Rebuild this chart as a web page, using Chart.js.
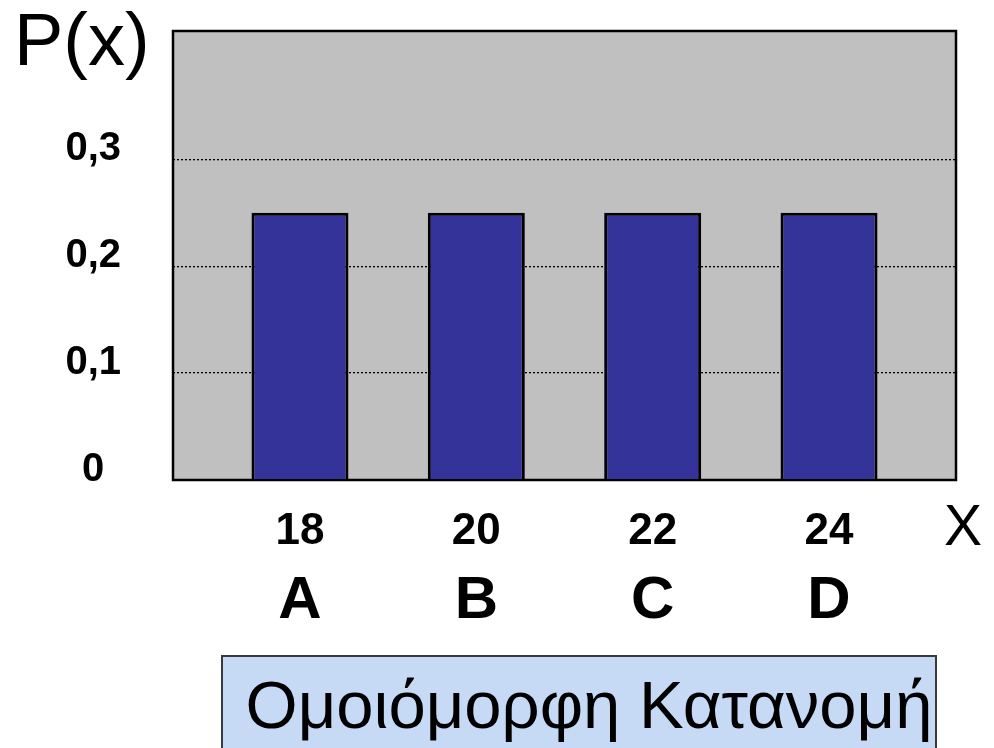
<!DOCTYPE html>
<html>
<head>
<meta charset="utf-8">
<script src="https://cdn.jsdelivr.net/npm/chart.js@4/dist/chart.umd.min.js"></script>
<style>
  html, body { margin: 0; padding: 0; background: #ffffff; }
  #wrap { position: relative; width: 994px; height: 748px; overflow: hidden; font-family: "Liberation Sans", Arial, sans-serif; }
  canvas { position: absolute; left: 0; top: 0; }
  .lbl { position: absolute; white-space: nowrap; color: #000; }
  #py { left: 14px; top: 3px; font-size: 74px; line-height: 74px; }
  #xx { left: 944px; top: 497px; font-size: 57px; line-height: 57px; }
  #box { position: absolute; left: 221px; top: 655px; width: 716px; height: 110px; background: #c6d9f5; border: 2px solid #3a3a3a; box-sizing: border-box; }
  #boxt { position: absolute; top: 671px; text-align: center; font-size: 67px; line-height: 67px; }
</style>
</head>
<body>
<div id="wrap">
  <canvas id="c" width="994" height="748"></canvas>
  <div class="lbl" id="py">P(x)</div>
  <div class="lbl" id="xx">X</div>
  <div id="box"></div>
  <div class="lbl" id="boxt" style="left:231px;width:716px;">Ομοιόμορφη Κατανομή</div>
</div>
<script>
const xValues = [18, 20, 22, 24];
const letters = ['A', 'B', 'C', 'D'];
const probabilities = [0.25, 0.25, 0.25, 0.25];
const yTickValues = [0, 0.1, 0.2, 0.3];
const yTickLabels = ['0', '0,1', '0,2', '0,3'];

const FONT = '"Liberation Sans", Arial, sans-serif';

const plotFrame = {
  id: 'plotFrame',
  beforeDraw(chart) {
    const a = chart.chartArea, ctx = chart.ctx;
    ctx.save();
    ctx.fillStyle = '#c0c0c0';
    ctx.fillRect(a.left, a.top, a.right - a.left, a.bottom - a.top);
    ctx.restore();
  },
  beforeDatasetsDraw(chart) {
    const a = chart.chartArea, ctx = chart.ctx;
    ctx.save();
    ctx.strokeStyle = '#000';
    ctx.lineWidth = 2.5;
    ctx.strokeRect(a.left, a.top, a.right - a.left, a.bottom - a.top);
    ctx.restore();
  }
};

const xMin = 16.56, xMax = 25.44;

function noPadX(s, h) { s.height = h; s.paddingLeft = 0; s.paddingRight = 0; s.paddingTop = 0; s.paddingBottom = 0; }

new Chart(document.getElementById('c'), {
  type: 'bar',
  data: {
    datasets: [{
      data: xValues.map((x, i) => ({ x: x, y: probabilities[i] })),
      backgroundColor: '#333399',
      borderColor: '#000000',
      borderWidth: 3,
      barPercentage: 0.55,
      categoryPercentage: 1.0,
      xAxisID: 'x',
      yAxisID: 'y'
    }]
  },
  options: {
    responsive: false,
    animation: false,
    events: [],
    layout: { padding: { left: 0, top: 31, right: 38, bottom: 108 } },
    plugins: { legend: { display: false }, tooltip: { enabled: false } },
    scales: {
      x: {
        type: 'linear',
        position: 'bottom',
        weight: 0,
        min: xMin, max: xMax,
        offset: false,
        grid: { display: false, drawTicks: false },
        border: { display: false },
        afterBuildTicks: s => { s.ticks = xValues.map(v => ({ value: v })); },
        afterFit: s => noPadX(s, 80),
        ticks: {
          autoSkip: false,
          maxRotation: 0,
          padding: 25,
          color: '#000',
          font: { family: FONT, size: 44, weight: 'bold' },
          callback: v => String(v)
        }
      },
      x2: {
        type: 'linear',
        position: 'bottom',
        weight: 1,
        min: xMin, max: xMax,
        offset: false,
        grid: { display: false, drawTicks: false },
        border: { display: false },
        afterBuildTicks: s => { s.ticks = xValues.map(v => ({ value: v })); },
        afterFit: s => noPadX(s, 80),
        ticks: {
          autoSkip: false,
          maxRotation: 0,
          padding: 5,
          color: '#000',
          font: { family: FONT, size: 60, weight: 'bold' },
          callback: v => letters[xValues.indexOf(v)] || ''
        }
      },
      y: {
        type: 'linear',
        position: 'left',
        min: 0, max: 0.42,
        z: 1,
        grid: { color: '#000', lineWidth: 1.3, drawTicks: false },
        border: { display: false, dash: [2, 2] },
        afterBuildTicks: s => { s.ticks = yTickValues.map(v => ({ value: v })); },
        afterFit: s => { s.width = 173; s.paddingTop = 0; s.paddingBottom = 0; s.paddingLeft = 0; s.paddingRight = 0; },
        ticks: {
          padding: 52,
          crossAlign: 'center',
          color: '#000',
          font: { family: FONT, size: 40, weight: 'bold', lineHeight: 0.5 },
          callback: v => {
            const i = yTickValues.findIndex(t => Math.abs(t - v) < 1e-9);
            return [i >= 0 ? yTickLabels[i] : '', ''];
          }
        }
      }
    }
  },
  plugins: [plotFrame]
});
</script>
</body>
</html>
